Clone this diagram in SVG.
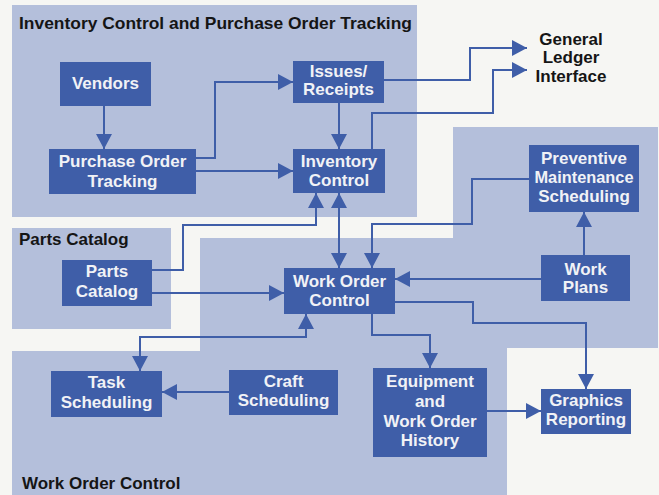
<svg xmlns="http://www.w3.org/2000/svg" width="659" height="495" viewBox="0 0 659 495">
<defs>
<style>
.region{fill:#b4bfdb}
.box{fill:#3f5ea8}
.nt{font-family:"Liberation Sans",Arial,sans-serif;font-weight:bold;font-size:17px;fill:#f1f2f6;text-anchor:middle}
.rt{font-family:"Liberation Sans",Arial,sans-serif;font-weight:bold;font-size:17px;fill:#151515}
.gl{font-family:"Liberation Sans",Arial,sans-serif;font-weight:bold;font-size:17px;fill:#151515;text-anchor:middle}
.c{fill:none;stroke:#3f5ea8;stroke-width:2}
.a{marker-end:url(#ah)}
.b{marker-start:url(#ah);marker-end:url(#ah)}
</style>
<marker id="ah" markerUnits="userSpaceOnUse" markerWidth="15" markerHeight="16" refX="15" refY="8" orient="auto-start-reverse">
<path d="M0,0 L15,8 L0,16 z" fill="#3f5ea8"/>
</marker>
</defs>
<rect width="659" height="495" fill="#f6f6f3"/>
<g id="regions">
<rect class="region" x="12" y="5" width="405" height="212"/>
<rect class="region" x="12" y="228" width="159" height="101"/>
<polygon class="region" points="200,238 453,238 453,127 658,127 658,348 507,348 507,495 12,495 12,351 200,351"/>
<text class="rt" x="19" y="29" textLength="393" lengthAdjust="spacingAndGlyphs">Inventory Control and Purchase Order Tracking</text>
<text class="rt" x="19" y="245">Parts Catalog</text>
<text class="rt" x="22" y="489">Work Order Control</text>
</g>
<g id="connectors">
<path class="c a" d="M104,106 V149"/>
<path class="c a" d="M196,158 H215 V82 H293"/>
<path class="c a" d="M196,171 H293"/>
<path class="c a" d="M339,103 V149"/>
<path class="c a" d="M384,80 H470 V48 H527"/>
<path class="c a" d="M372,149 V113 H493 V70 H527"/>
<path class="c a" d="M152,270 H183 V225 H316 V193"/>
<path class="c b" d="M339,193 V268"/>
<path class="c a" d="M529,179 H472 V224 H372 V268"/>
<path class="c a" d="M584,255 V212"/>
<path class="c a" d="M541,279 H395"/>
<path class="c a" d="M152,293 H284"/>
<path class="c b" d="M306,314 V337 H140 V371"/>
<path class="c a" d="M229,392 H162"/>
<path class="c a" d="M372,314 V335 H430 V368"/>
<path class="c a" d="M395,302 H473 V323 H586 V389"/>
<path class="c a" d="M487,411 H541"/>
</g>
<g id="vendors"><rect class="box" x="60" y="62" width="91" height="44"/><text class="nt" x="105.5" y="89">Vendors</text></g>
<g id="po-tracking"><rect class="box" x="49" y="149" width="147" height="45"/><text class="nt" x="122.5" y="167">Purchase Order</text><text class="nt" x="122.5" y="187">Tracking</text></g>
<g id="issues-receipts"><rect class="box" x="293" y="61" width="91" height="42"/><text class="nt" x="338.5" y="77">Issues/</text><text class="nt" x="338.5" y="95">Receipts</text></g>
<g id="inventory-control"><rect class="box" x="293" y="149" width="92" height="44"/><text class="nt" x="339" y="167">Inventory</text><text class="nt" x="339" y="186">Control</text></g>
<g id="general-ledger"><text class="gl" x="571" y="45">General</text><text class="gl" x="571" y="63">Ledger</text><text class="gl" x="571" y="82">Interface</text></g>
<g id="preventive"><rect class="box" x="529" y="145" width="110" height="67"/><text class="nt" x="584" y="164">Preventive</text><text class="nt" x="584" y="183" textLength="99" lengthAdjust="spacingAndGlyphs">Maintenance</text><text class="nt" x="584" y="202">Scheduling</text></g>
<g id="work-plans"><rect class="box" x="541" y="255" width="89" height="46"/><text class="nt" x="585.5" y="275">Work</text><text class="nt" x="585.5" y="293">Plans</text></g>
<g id="work-order-control"><rect class="box" x="284" y="268" width="111" height="46"/><text class="nt" x="339.5" y="287">Work Order</text><text class="nt" x="339.5" y="306">Control</text></g>
<g id="parts-catalog"><rect class="box" x="62" y="260" width="90" height="46"/><text class="nt" x="107" y="277">Parts</text><text class="nt" x="107" y="297">Catalog</text></g>
<g id="task-scheduling"><rect class="box" x="51" y="371" width="111" height="46"/><text class="nt" x="106.5" y="388">Task</text><text class="nt" x="106.5" y="408">Scheduling</text></g>
<g id="craft-scheduling"><rect class="box" x="229" y="370" width="109" height="45"/><text class="nt" x="283.5" y="387">Craft</text><text class="nt" x="283.5" y="406">Scheduling</text></g>
<g id="equipment-history"><rect class="box" x="373" y="368" width="114" height="89"/><text class="nt" x="430" y="387">Equipment</text><text class="nt" x="430" y="407">and</text><text class="nt" x="430" y="427">Work Order</text><text class="nt" x="430" y="446">History</text></g>
<g id="graphics-reporting"><rect class="box" x="541" y="389" width="90" height="45"/><text class="nt" x="586" y="406">Graphics</text><text class="nt" x="586" y="425">Reporting</text></g>
</svg>
